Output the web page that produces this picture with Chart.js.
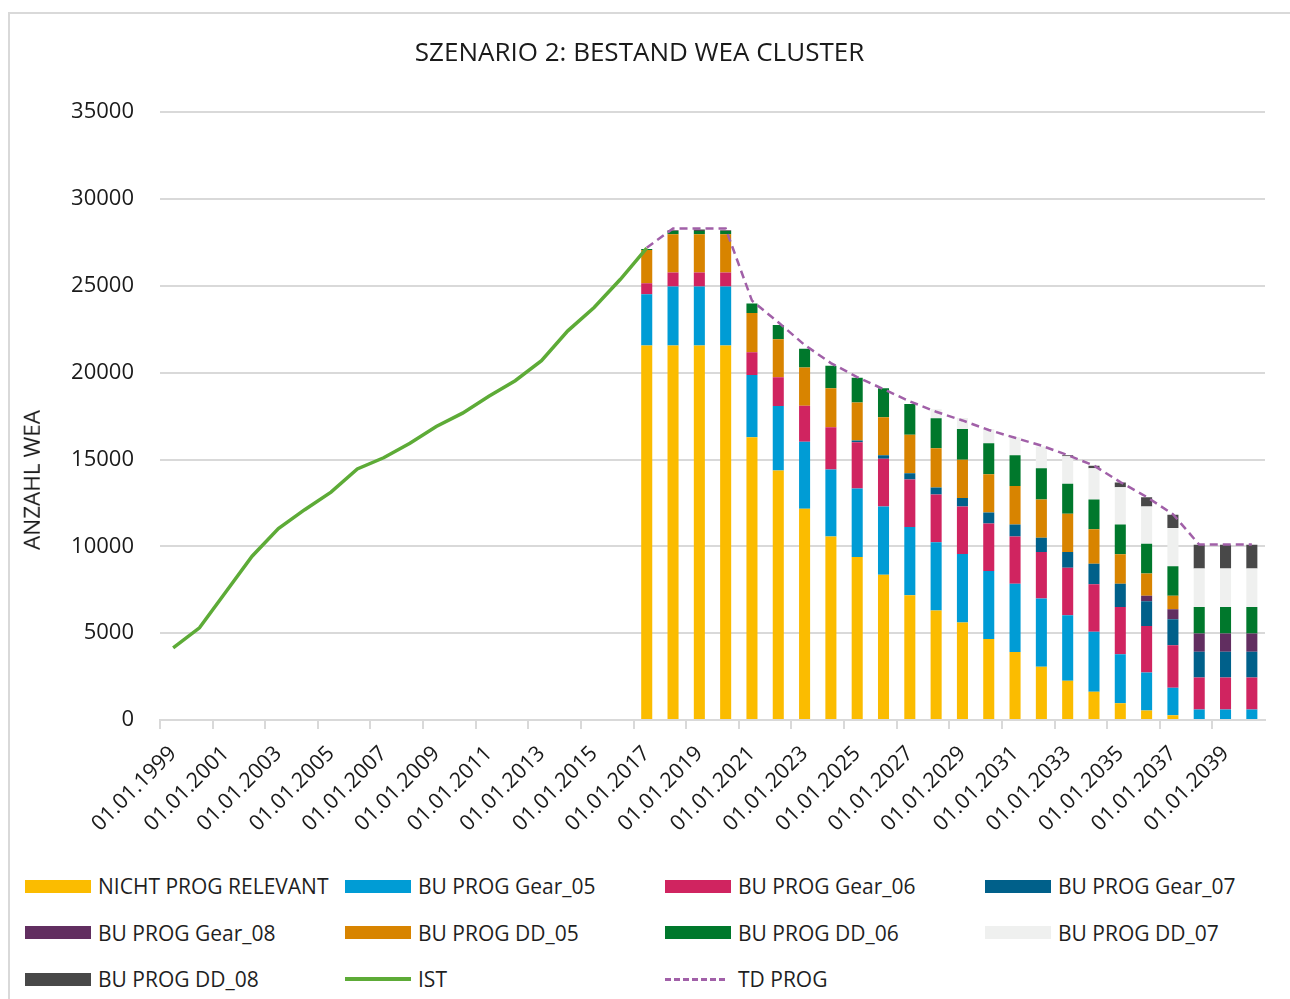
<!DOCTYPE html>
<html>
<head>
<meta charset="utf-8">
<script src="https://cdn.jsdelivr.net/npm/chart.js@4/dist/chart.umd.min.js"></script>
<style>
  html, body { margin: 0; padding: 0; background: #fff; }
  #wrap { position: relative; width: 1290px; height: 999px; overflow: hidden; font-family: "Open Sans", "Noto Sans", sans-serif; }
  #frame { position: absolute; left: 8px; top: 12px; width: 1300px; height: 1000px; border-left: 2px solid #d9d9d9; border-top: 2px solid #d9d9d9; box-sizing: border-box; }
  #c { position: absolute; left: 0; top: 0; }
  #ytitle { position: absolute; left: 32px; top: 480px; transform: translate(-50%, -50%) rotate(-90deg); font-size: 22.5px; color: #1a1a1a; white-space: nowrap; line-height: 1; }
  #legend { position: absolute; left: 25px; top: 868px; width: 1280px; display: grid; grid-template-columns: 320px 320px 320px 320px; grid-auto-rows: 46.5px; }
  .item { display: flex; align-items: center; height: 36px; font-size: 21px; color: #1f1f1f; white-space: nowrap; }
  .sw { width: 66px; height: 13px; margin-right: 7px; flex: none; }
  .ln { width: 66px; height: 0; margin-right: 7px; flex: none; }
</style>
</head>
<body>
<div id="wrap">
  <div id="frame"></div>
  <canvas id="c" width="1290" height="860"></canvas>
  <div id="ytitle">ANZAHL WEA</div>
  <div id="legend"></div>
</div>
<script>
const years = [];
for (let y = 1999; y <= 2040; y++) years.push(y);
const categories = years.map(y => '01.01.' + y);

// IST (1999..2017)
const ist = [4150, 5310, 7370, 9430, 11020, 12110, 13120, 14460, 15100, 15940, 16900, 17670, 18640, 19540, 20690, 22410, 23750, 25380, 27170];

// stacked bar series for 2017..2040 (24 values)
const nichtProg = [21570, 21570, 21570, 21570, 16280, 14370, 12170, 10570, 9390, 8360, 7180, 6300, 5610, 4660, 3910, 3070, 2260, 1630, 960, 540, 270, 0, 0, 0];
const gear05    = [2950, 3390, 3390, 3390, 3580, 3710, 3860, 3860, 3940, 3940, 3930, 3930, 3950, 3920, 3930, 3920, 3770, 3450, 2820, 2200, 1590, 610, 610, 610];
const gear06    = [630, 810, 810, 810, 1310, 1650, 2060, 2430, 2670, 2740, 2740, 2760, 2740, 2740, 2730, 2680, 2740, 2740, 2730, 2680, 2450, 1840, 1840, 1840];
const gear07    = [0, 0, 0, 0, 0, 0, 0, 0, 90, 210, 360, 400, 480, 630, 690, 830, 900, 1180, 1340, 1420, 1490, 1480, 1480, 1480];
const gear08    = [0, 0, 0, 0, 0, 0, 0, 0, 0, 0, 0, 0, 0, 0, 0, 0, 0, 0, 0, 310, 580, 1050, 1050, 1050];
const dd05      = [1920, 2200, 2200, 2200, 2260, 2200, 2210, 2240, 2190, 2180, 2210, 2260, 2200, 2200, 2210, 2200, 2210, 1980, 1690, 1280, 770, 0, 0, 0];
const dd06      = [50, 190, 190, 190, 560, 810, 1080, 1300, 1430, 1670, 1780, 1720, 1780, 1790, 1780, 1800, 1720, 1720, 1720, 1720, 1700, 1530, 1530, 1530];
const dd07      = [0, 0, 0, 0, 0, 0, 0, 0, 0, 0, 0, 530, 630, 820, 1030, 1250, 1590, 1800, 2150, 2150, 2200, 2210, 2210, 2210];
const dd08      = [0, 40, 80, 40, 0, 0, 0, 0, 0, 0, 0, 0, 0, 0, 0, 0, 60, 140, 270, 530, 770, 1370, 1370, 1370];

// TD PROG (2017..2040)
const tdProg = [27200, 28300, 28300, 28300, 24150, 22900, 21600, 20550, 19750, 19050, 18350, 17750, 17250, 16700, 16250, 15800, 15250, 14650, 13700, 12850, 11850, 10100, 10100, 10100];

const yTicks = [0, 5000, 10000, 15000, 20000, 25000, 30000, 35000];

const barStart = years.indexOf(2017);
function padBars(arr) { return categories.map((_, i) => i >= barStart ? arr[i - barStart] : null); }
const istFull = categories.map((_, i) => i < ist.length ? ist[i] : null);
const tdFull = padBars(tdProg);

const barDefs = [
  ['NICHT PROG RELEVANT', nichtProg, '#fbbc00'],
  ['BU PROG Gear_05', gear05, '#009cd5'],
  ['BU PROG Gear_06', gear06, '#d02460'],
  ['BU PROG Gear_07', gear07, '#00608a'],
  ['BU PROG Gear_08', gear08, '#612e60'],
  ['BU PROG DD_05', dd05, '#d88400'],
  ['BU PROG DD_06', dd06, '#00782c'],
  ['BU PROG DD_07', dd07, '#eff0ef'],
  ['BU PROG DD_08', dd08, '#484848']
];

const datasets = barDefs.map(([label, data, color]) => ({
  type: 'bar', label, data: padBars(data), backgroundColor: color, borderWidth: 0,
  stack: 'bars', order: 2, barPercentage: 0.42, categoryPercentage: 1
}));
datasets.push({
  type: 'line', label: 'IST', data: istFull, borderColor: '#5dab37', borderWidth: 3.5,
  pointRadius: 0, tension: 0, stack: 'ist', order: 0, spanGaps: false
});
datasets.push({
  type: 'line', label: 'TD PROG', data: tdFull, borderColor: '#a160a8', borderWidth: 2.5,
  borderDash: [8, 5], pointRadius: 0, tension: 0, stack: 'td', order: 1, spanGaps: false
});

const FONT = '"Open Sans", "Noto Sans", sans-serif';
const chart = new Chart(document.getElementById('c'), {
  type: 'bar',
  data: { labels: categories, datasets },
  options: {
    responsive: false,
    animation: false,
    devicePixelRatio: 1,
    layout: { padding: { left: 14, right: 25, top: 0, bottom: 0 } },
    plugins: {
      legend: { display: false },
      tooltip: { enabled: false },
      title: {
        display: true, text: 'SZENARIO 2: BESTAND WEA CLUSTER', color: '#1a1a1a',
        font: { family: FONT, size: 26, weight: 'normal' }, padding: { top: 38, bottom: 43 }
      }
    },
    scales: {
      x: {
        stacked: true,
        offset: true,
        grid: {
          offset: true, drawOnChartArea: false, drawTicks: true, tickLength: 9,
          color: (ctx) => (ctx.index % 2 === 0 ? '#d9d9d9' : 'rgba(0,0,0,0)'), lineWidth: 2
        },
        border: { display: true, color: '#d9d9d9', width: 2 },
        ticks: {
          autoSkip: false, maxRotation: 45, minRotation: 45, color: '#1a1a1a', padding: 12,
          font: { family: FONT, size: 21.5 },
          callback: (v, i) => (i % 2 === 0 ? categories[i] : '')
        },
        afterFit: (s) => { s.height = 140; }
      },
      y: {
        stacked: true,
        min: 0, max: 35000,
        afterBuildTicks: (s) => { s.ticks = yTicks.map(v => ({ value: v })); },
        grid: { color: '#d9d9d9', lineWidth: 2, drawTicks: false },
        border: { display: false },
        ticks: { color: '#1a1a1a', padding: 26, font: { family: FONT, size: 22 }, callback: (v) => String(v) },
        afterFit: (s) => { s.width = 146; }
      }
    }
  }
});

// HTML legend
const legendItems = barDefs.map(([label, , color]) => ({ label, color, kind: 'box' }));
legendItems.push({ label: 'IST', color: '#5dab37', kind: 'line' });
legendItems.push({ label: 'TD PROG', color: '#a160a8', kind: 'dash' });
const lg = document.getElementById('legend');
legendItems.forEach(it => {
  const d = document.createElement('div');
  d.className = 'item';
  const s = document.createElement('span');
  if (it.kind === 'box') { s.className = 'sw'; s.style.background = it.color; }
  else if (it.kind === 'line') { s.className = 'ln'; s.style.borderTop = '4px solid ' + it.color; }
  else { s.className = 'ln'; s.style.width = '60px'; s.style.marginRight = '13px'; s.style.borderTop = '3px dashed ' + it.color; }
  d.appendChild(s);
  const t = document.createElement('span');
  t.textContent = it.label;
  d.appendChild(t);
  lg.appendChild(d);
});
</script>
</body>
</html>
